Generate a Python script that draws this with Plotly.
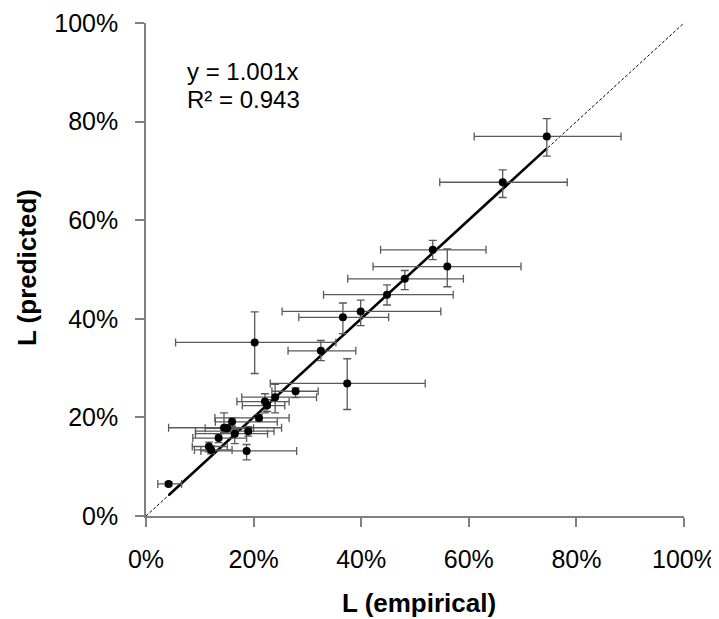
import plotly.graph_objects as go

# empirical L (%), predicted L (%), and error-bar ends (%)
x_emp = [74.5, 66.3, 53.3, 56.0, 48.1, 44.8, 39.9, 36.6, 20.2, 32.5, 37.4, 27.8,
         24.0, 22.1, 22.5, 21.0, 16.0, 14.5, 15.1, 16.5, 19.0, 13.5, 11.7, 12.1, 18.7, 4.2]
y_pred = [77.0, 67.7, 54.0, 50.6, 48.1, 44.9, 41.5, 40.3, 35.2, 33.5, 26.9, 25.3,
          24.1, 23.2, 22.4, 19.9, 19.1, 17.9, 17.8, 16.7, 17.2, 15.8, 14.1, 13.4, 13.2, 6.5]
x_lo = [61.0, 54.6, 43.6, 42.2, 37.5, 33.0, 25.3, 28.4, 5.5, 26.4, 23.1, 23.4,
        17.8, 16.9, 17.9, 12.8, 12.9, 4.2, 11.0, 9.2, 9.2, 8.7, 8.6, 9.0, 10.2, 2.2]
x_hi = [88.3, 78.3, 63.2, 69.7, 59.0, 57.1, 54.8, 45.1, 35.3, 39.0, 51.9, 32.0,
        31.7, 26.6, 25.8, 26.6, 24.4, 25.2, 20.0, 22.6, 23.8, 18.7, 15.1, 16.0, 28.0, 6.6]
y_lo = [73.0, 64.6, 52.0, 46.5, 45.9, 42.8, 38.6, 37.0, 28.9, 31.5, 21.6, 24.0,
        20.9, 20.9, 21.2, 19.3, 18.2, 16.9, 17.0, 14.7, 16.2, 14.9, 13.0, 12.6, 11.4, 6.1]
y_hi = [80.6, 70.2, 55.9, 54.2, 49.8, 46.9, 43.8, 43.2, 41.4, 35.6, 31.9, 26.0,
        26.7, 24.8, 23.6, 20.6, 19.9, 20.9, 18.6, 17.6, 18.1, 16.6, 15.0, 14.2, 14.5, 6.9]

slope = 1.001
eq_text = "y = 1.001x"
r2_text = "R² = 0.943"
tick_vals = [0, 20, 40, 60, 80, 100]
tick_text = [f"{v}%" for v in tick_vals]
x_title = "<b>L (empirical)</b>"
y_title = "<b>L (predicted)</b>"

FONT = "Liberation Sans, Arial, Helvetica, sans-serif"
fig = go.Figure()

# y = x reference (dashed)
fig.add_trace(go.Scatter(x=[0, 100], y=[0, 100], mode="lines",
                         line=dict(color="black", width=1, dash="3px,2px"),
                         hoverinfo="skip", showlegend=False))

# regression line over data range
xmin, xmax = min(x_emp), max(x_emp)
fig.add_trace(go.Scatter(x=[xmin, xmax], y=[slope * xmin, slope * xmax], mode="lines",
                         line=dict(color="black", width=2.6),
                         hoverinfo="skip", showlegend=False))

# points with error bars
fig.add_trace(go.Scatter(
    x=x_emp, y=y_pred, mode="markers",
    marker=dict(color="black", size=8),
    error_x=dict(type="data", symmetric=False,
                 array=[h - v for h, v in zip(x_hi, x_emp)],
                 arrayminus=[v - l for v, l in zip(x_emp, x_lo)],
                 color="#5a5a5a", thickness=1.3, width=4),
    error_y=dict(type="data", symmetric=False,
                 array=[h - v for h, v in zip(y_hi, y_pred)],
                 arrayminus=[v - l for v, l in zip(y_pred, y_lo)],
                 color="#5a5a5a", thickness=1.3, width=4),
    showlegend=False))

axis_common = dict(range=[0, 100], tickmode="array", tickvals=tick_vals, ticktext=tick_text,
                   showline=True, linecolor="#808080", linewidth=1.5,
                   ticks="outside", ticklen=9, tickcolor="#808080", tickwidth=1.5,
                   showgrid=False, zeroline=False, automargin=False,
                   tickfont=dict(family=FONT, size=25, color="black"))

fig.update_layout(
    width=711, height=611,
    margin=dict(l=138, r=35, t=15, b=103),
    paper_bgcolor="white", plot_bgcolor="white",
    xaxis=dict(**axis_common, ticklabelstandoff=11),
    yaxis=dict(**axis_common, ticklabelstandoff=12),
    annotations=[
        dict(x=7.2, y=90.1, xref="x", yref="y", text=eq_text, showarrow=False,
             xanchor="left", yanchor="middle",
             font=dict(family=FONT, size=24, color="black")),
        dict(x=7.2, y=84.4, xref="x", yref="y", text=r2_text, showarrow=False,
             xanchor="left", yanchor="middle",
             font=dict(family=FONT, size=24, color="black")),
        dict(x=0.507, y=-0.1765, xref="paper", yref="paper", text=x_title, showarrow=False,
             xanchor="center", yanchor="middle",
             font=dict(family=FONT, size=26, color="black")),
        dict(x=-0.2212, y=0.505, xref="paper", yref="paper", text=y_title, showarrow=False,
             xanchor="center", yanchor="middle", textangle=-90,
             font=dict(family=FONT, size=26, color="black")),
    ],
)

fig.write_html("out.html")
